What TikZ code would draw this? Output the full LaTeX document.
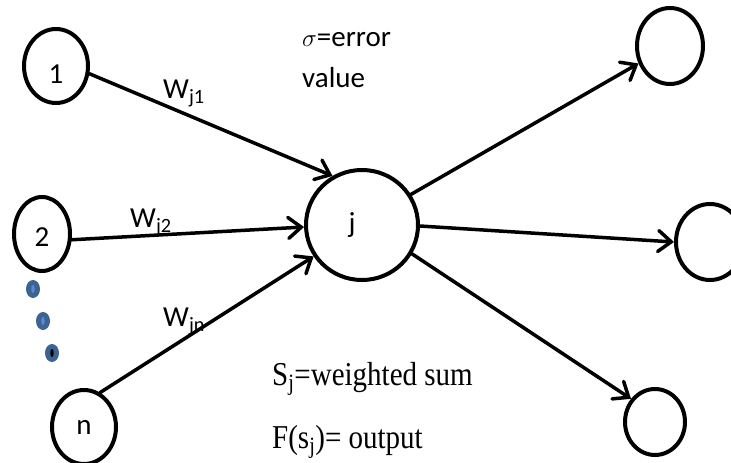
\documentclass[tikz,border=0pt]{standalone}
\usepackage{fontspec}
\setmainfont{Carlito}
\newfontfamily\tnr{Liberation Serif}
\usetikzlibrary{shapes.geometric,arrows.meta}
\definecolor{dotblue}{HTML}{3D6393}
\definecolor{dotlight}{HTML}{5A8AD0}
\newcommand{\tallt}[1]{\scalebox{1}[1.15]{#1}}
\begin{document}
\begin{tikzpicture}[x=1pt,y=-1pt,
  neuron/.style={draw,ellipse,line width=4pt,inner sep=0pt},
  conn/.style={line width=3.5pt,line cap=round,-{Straight Barb[length=13pt,width=21pt,line cap=round]}},
  lbl/.style={font=\fontsize{29}{33}\selectfont,inner sep=0pt},
  wlbl/.style={lbl,anchor=base west},
  tlbl/.style={font=\tnr\fontsize{29}{33}\selectfont,inner sep=0pt,anchor=base west},
  dotouter/.style={ellipse,fill=dotblue,minimum width=14pt,minimum height=18pt,inner sep=0pt},
  dotinner/.style={ellipse,minimum width=3.5pt,minimum height=8pt,inner sep=0pt}]
\useasboundingbox (0,0) rectangle (731,463);

% input neurons
\node[neuron,minimum width=64pt,minimum height=74pt] (n1) at (56,66) {};
\node[neuron,minimum width=56pt,minimum height=74pt] (n2) at (42,234) {};
\node[neuron,minimum width=64pt,minimum height=74pt] (nn) at (84,427) {};
% hidden neuron
\node[neuron,minimum width=112pt,minimum height=110pt] (j) at (362,225) {};
% output neurons
\node[neuron,minimum width=66pt,minimum height=76pt] (o1) at (670,46) {};
\node[neuron,minimum width=68pt,minimum height=76pt] (o2) at (710,242) {};
\node[neuron,minimum width=60pt,minimum height=66pt] (o3) at (655,422) {};

% neuron texts
\node[lbl] (t1) at ([yshift=-8pt]n1.center) {1};
\node[lbl] (t2) at ([yshift=-3pt]n2.center) {2};
\node[lbl] (tn) at (nn.center) {n};
\node[lbl] (tj) at ([xshift=-10pt]j.center) {j};

% dots
\node[dotouter] (d1) at (33,289) {};
\node[dotinner,fill=dotlight] (d1c) at (d1.center) {};
\node[dotouter] (d2) at (43,321) {};
\node[dotinner,fill=dotlight] (d2c) at (d2.center) {};
\node[dotouter] (d3) at (52,353) {};
\node[dotinner,fill=black] (d3c) at (d3.center) {};

% connectors
\draw[conn] (n1.-13) -- (j.121);
\draw[conn] (n2.-11) -- (j.182);
\draw[conn] (nn.65) -- (j.213);
\draw[conn] (j.32) -- (o1.209);
\draw[conn] (j.-1) -- (o2.180);
\draw[conn] (j.-30) -- (o3.136);

% weight labels
\node[wlbl] (w1) at (163,98) {W\textsubscript{j1}};
\node[wlbl] (w2) at (130,227) {W\textsubscript{j2}};
\node[wlbl] (wn) at (163,326) {W\textsubscript{jn}};

% annotations
\node[wlbl] (sig) at (302,46) {$\sigma$=error};
\node[wlbl] (val) at (302,87) {value};
\node[tlbl] (sj) at (272,385) {\tallt{S\textsubscript{j}=weighted sum}};
\node[tlbl] (fs) at (272,448) {\tallt{F(s\textsubscript{j})= output}};
\end{tikzpicture}
\end{document}
